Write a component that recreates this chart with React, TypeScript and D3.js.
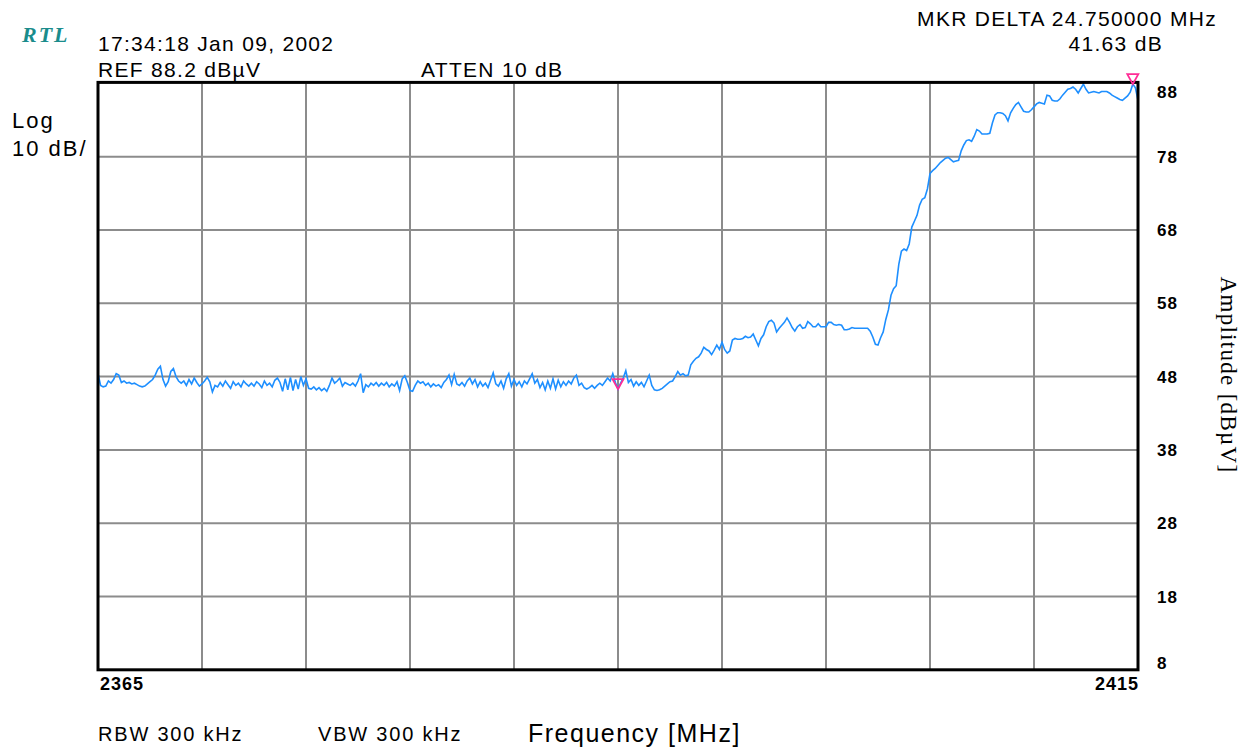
import React from "react";
import * as d3 from "d3";

// sweep settings
const startMHz = 2365;
const stopMHz = 2415;
const refLevel = 88.2;
const ampLabels = [88, 78, 68, 58, 48, 38, 28, 18, 8];
const markerMHz = [2390, 2414.75];

// trace, dBuV, 401 points over the span
const traceDb = [
  48.6, 47.0, 46.8, 46.9, 47.6, 47.3, 47.8, 48.6, 48.4, 47.4, 47.6, 47.3, 47.4, 47.2, 47.3, 47.1, 46.9, 46.8, 46.9, 47.2,
  47.5, 47.8, 48.4, 49.2, 49.6, 47.8, 46.9, 47.5, 48.9, 49.3, 48.2, 47.6, 47.3, 47.6, 47.0, 47.8, 47.2, 48.0, 47.4, 46.9,
  47.2, 47.6, 48.1, 47.5, 46.1, 47.0, 46.8, 47.4, 46.9, 47.6, 47.1, 46.6, 47.5, 47.0, 47.3, 46.8, 47.6, 47.2, 46.9, 47.3,
  46.9, 47.5, 47.2, 46.7, 47.6, 47.0, 47.3, 46.8, 47.7, 48.0, 47.4, 46.2, 47.9, 46.4, 48.1, 46.3, 47.8, 46.5, 48.2, 47.0,
  47.9, 46.6, 46.5, 46.8, 46.4, 46.7, 46.3, 46.6, 46.2, 47.0, 48.0, 47.3, 47.6, 48.0, 46.9, 47.4, 47.2, 47.0, 47.3, 46.9,
  47.6, 48.6, 46.0, 47.1, 46.8, 47.3, 47.0, 47.4, 46.9, 47.3, 47.0, 47.4, 46.8, 47.2, 46.9, 47.5, 46.3, 47.9, 48.3, 47.4,
  46.3, 46.2, 47.0, 47.6, 47.3, 47.5, 47.0, 47.3, 46.8, 47.2, 46.9, 47.1, 46.7, 47.4, 47.8, 48.4, 47.1, 48.5, 47.2, 47.0,
  47.4, 46.9, 47.6, 48.0, 47.2, 47.8, 46.8, 47.5, 46.9, 47.3, 46.7, 47.7, 48.7, 47.2, 46.9, 47.6, 46.6, 47.9, 48.6, 46.9,
  47.8, 47.0, 47.5, 46.8, 47.6, 47.2, 47.9, 48.6, 47.3, 47.8, 46.7, 47.4, 46.4, 47.6, 46.6, 47.9, 46.5, 47.7, 46.8, 47.5,
  47.0, 47.6, 47.2, 48.0, 48.4, 47.0, 47.3, 46.7, 46.5, 46.7, 47.0, 46.6, 47.0, 47.3, 47.0, 47.5, 48.0, 47.6, 48.6, 47.4,
  46.5, 47.3, 48.0, 49.0, 47.4, 47.8, 46.9, 47.5, 47.0, 47.4, 46.8, 47.6, 48.4, 47.0, 46.4, 46.3, 46.4, 46.6, 46.9, 47.2,
  47.5, 47.6, 48.2, 48.9, 48.4, 48.6, 48.3, 48.4, 49.8, 50.3, 50.7, 50.9, 51.4, 52.2, 51.9, 51.7, 51.2, 51.8, 52.5, 51.9,
  52.9, 51.9, 51.4, 51.7, 53.2, 53.4, 53.3, 53.3, 53.4, 53.7, 53.5, 53.6, 54.0, 53.2, 52.4, 53.4, 53.9, 55.0, 55.7, 55.9,
  55.5, 54.3, 54.8, 55.2, 55.6, 56.2, 55.6, 54.9, 54.4, 55.0, 55.3, 54.8, 54.9, 55.7, 55.4, 55.0, 55.0, 55.4, 55.0, 55.0,
  55.0, 55.6, 55.6, 55.3, 55.2, 55.3, 55.2, 54.6, 54.6, 54.7, 54.9, 54.8, 54.8, 54.8, 54.8, 54.8, 54.8, 54.4, 53.6, 52.6,
  52.5, 53.5, 54.3, 56.0, 57.3, 59.3, 60.2, 60.6, 63.5, 65.3, 65.6, 65.4, 66.3, 68.6, 69.4, 70.2, 71.6, 72.4, 72.6, 73.8,
  75.9, 76.3, 76.6, 77.0, 77.4, 77.7, 78.0, 78.1, 77.8, 77.5, 77.6, 77.7, 79.0, 79.8, 80.4, 80.5, 80.3, 81.0, 81.9, 81.7,
  81.3, 81.3, 81.3, 81.4, 82.8, 83.9, 84.2, 84.2, 84.1, 83.8, 83.1, 84.2, 84.8, 85.3, 85.6, 85.0, 84.4, 84.3, 84.3, 84.6,
  85.0, 85.4, 85.6, 85.5, 85.4, 86.6, 86.5, 85.9, 85.8, 85.8, 86.1, 86.6, 87.0, 87.4, 87.5, 87.7, 87.4, 86.9, 87.5, 88.1,
  87.4, 86.9, 87.0, 87.1, 87.0, 86.9, 87.1, 87.1, 87.1, 86.9, 86.6, 86.4, 86.2, 86.0, 85.9, 86.2, 86.5, 87.0, 88.1, 87.6,
  85.9,
];

const W = 1248;
const H = 751;
const sans = "'Liberation Sans', Arial, sans-serif";
const serif = "'Liberation Serif', 'Times New Roman', serif";

export default function App() {
  const left = 98, right = 1138, top = 83.4, bottom = 669.8;
  const step = (stopMHz - startMHz) / (traceDb.length - 1);

  const x = d3.scaleLinear().domain([startMHz, stopMHz]).range([left, right]);
  const y = d3.scaleLinear().domain([refLevel - 80, refLevel]).range([bottom, top]);

  const line = d3
    .line<number>()
    .x((d, i) => x(startMHz + i * step))
    .y((d) => y(d));

  const vGrid = x.ticks(10).filter((t) => t > startMHz && t < stopMHz);
  const hGrid = d3.range(1, 8).map((k) => refLevel - k * 10);

  const markers = markerMHz.map((m) => {
    const idx = Math.round((m - startMHz) / step);
    return { mx: x(m), my: y(traceDb[idx]) };
  });

  return (
    <svg width={W} height={H} style={{ position: "absolute", left: 0, top: 0, background: "#fff" }}>
      <text x={22} y={42} fontFamily={serif} fontStyle="italic" fontWeight="bold" fontSize={22} letterSpacing={2} fill="#1a8c8c">
        RTL
      </text>
      <g fontFamily={sans} fontSize={21} letterSpacing={1.3} fill="#000">
        <text x={98} y={51}>17:34:18 Jan 09, 2002</text>
        <text x={98} y={77}>REF 88.2 dBµV</text>
        <text x={421} y={77}>ATTEN 10 dB</text>
        <text x={1217} y={26} textAnchor="end">MKR DELTA 24.750000 MHz</text>
        <text x={1163} y={51} textAnchor="end">41.63 dB</text>
        <text x={12} y={128} fontSize={22} letterSpacing={2}>Log</text>
        <text x={12} y={156} fontSize={22} letterSpacing={2}>10 dB/</text>
        <text x={98} y={741} fontSize={20} letterSpacing={1.8}>RBW 300 kHz</text>
        <text x={318} y={741} fontSize={20} letterSpacing={1.8}>VBW 300 kHz</text>
        <text x={528} y={742} fontSize={25} letterSpacing={1.5}>Frequency [MHz]</text>
      </g>

      <g stroke="#8c8c8c" strokeWidth={2}>
        {vGrid.map((t) => (
          <line key={"v" + t} x1={x(t)} x2={x(t)} y1={top} y2={bottom} />
        ))}
        {hGrid.map((v) => (
          <line key={"h" + v} x1={left} x2={right} y1={y(v)} y2={y(v)} />
        ))}
      </g>

      <path d={line(traceDb) || ""} fill="none" stroke="#1e8fff" strokeWidth={1.6} />

      <rect x={left} y={top - 1} width={right - left} height={bottom - top + 1} fill="none" stroke="#000" strokeWidth={3} />

      {markers.map((m, i) => (
        <path
          key={i}
          d={`M${m.mx},${m.my} L${m.mx - 5.5},${m.my - 10} L${m.mx + 5.5},${m.my - 10} Z`}
          fill="none"
          stroke="#ff2d96"
          strokeWidth={1.8}
        />
      ))}

      <g fontFamily={sans} fontWeight="bold" fontSize={17} letterSpacing={1} fill="#000">
        {ampLabels.map((a) => {
          const cy = Math.min(Math.max(y(a + 0.2), 92), 663);
          return (
            <text key={a} x={1157} y={cy + 6}>
              {a}
            </text>
          );
        })}
        <text x={100} y={690} fontSize={18}>{startMHz}</text>
        <text x={1139} y={690} fontSize={18} textAnchor="end">{stopMHz}</text>
      </g>

      <text
        transform="translate(1221,375) rotate(90)"
        textAnchor="middle"
        fontFamily={serif}
        fontSize={23}
        letterSpacing={1.3}
        fill="#000"
      >
        Amplitude [dBµV]
      </text>
    </svg>
  );
}
